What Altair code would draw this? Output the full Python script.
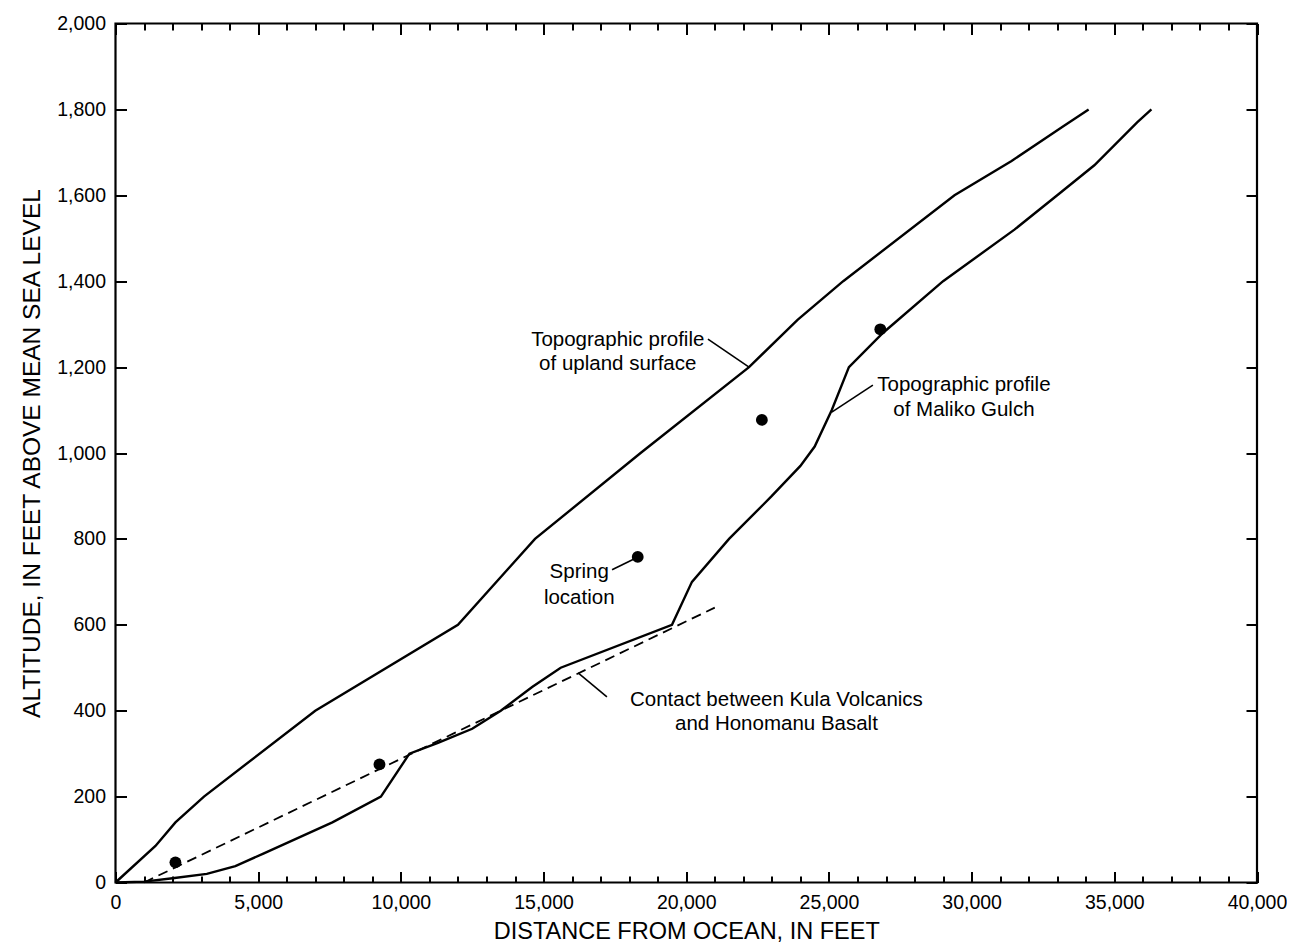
import altair as alt
import pandas as pd

FONT = "Liberation Sans"

# --- data ---
upland_x = [0, 1400, 2100, 3100, 7000, 12000, 14700, 18400, 22200, 23900, 25500, 29400, 31400, 33200, 34100]
upland_y = [0, 85, 140, 200, 400, 600, 800, 1000, 1200, 1310, 1400, 1600, 1680, 1760, 1800]

maliko_x = [0, 1000, 2000, 3200, 4200, 5200, 7600, 9300, 10300, 11300, 12500, 13500, 14600, 15600,
            19500, 20200, 21500, 23000, 24000, 24500, 25100, 25700, 26900, 29000, 31500, 33000,
            34300, 35800, 36300]
maliko_y = [0, 2, 10, 20, 38, 68, 140, 200, 300, 325, 358, 400, 455, 500,
            600, 700, 800, 900, 970, 1015, 1100, 1200, 1280, 1400, 1520, 1600,
            1670, 1770, 1800]

contact_x = [1000, 21000]
contact_y = [0, 640]

spring_x = [2100, 9250, 18300, 22650, 26800]
spring_y = [47, 275, 758, 1077, 1288]

label_text = ["Topographic profile", "of upland surface",
              "Topographic profile", "of Maliko Gulch",
              "Spring", "location",
              "Contact between Kula Volcanics", "and Honomanu Basalt"]
label_x = [17600, 17600, 29730, 29730, 16250, 16250, 23160, 23160]
label_y = [1263, 1207, 1158, 1100, 723, 662, 425, 369]

leader_x = [20760, 26540, 17400, 17220]
leader_y = [1265, 1158, 728, 432]
leader_x2 = [22200, 25100, 18170, 16210]
leader_y2 = [1200, 1095, 753, 488]

major_x = [0, 5000, 10000, 15000, 20000, 25000, 30000, 35000, 40000]
minor_x = [v for v in range(1000, 40000, 1000) if v % 5000 != 0]
major_y = [0, 200, 400, 600, 800, 1000, 1200, 1400, 1600, 1800, 2000]

up_df = pd.DataFrame({"x": upland_x, "y": upland_y, "o": range(len(upland_x))})
mal_df = pd.DataFrame({"x": maliko_x, "y": maliko_y, "o": range(len(maliko_x))})
con_df = pd.DataFrame({"x": contact_x, "y": contact_y, "o": range(len(contact_x))})
spr_df = pd.DataFrame({"x": spring_x, "y": spring_y})
lab_df = pd.DataFrame({"x": label_x, "y": label_y, "t": label_text})
lead_df = pd.DataFrame({"x": leader_x, "y": leader_y, "x2": leader_x2, "y2": leader_y2})

xs = alt.Scale(domain=[0, 40000], nice=False, zero=False)
ys = alt.Scale(domain=[0, 2000], nice=False, zero=False)

common = dict(domain=False, grid=False, tickColor="black", tickWidth=2,
              labelFont=FONT, labelFontSize=19.5, labelColor="black",
              titleFont=FONT, titleColor="black", titleFontWeight="normal")

ax_bottom_major = alt.Axis(orient="bottom", values=major_x, offset=-11, tickSize=11,
                           labelPadding=11, format=",d", labelFlush=False, labelOverlap=False,
                           title="DISTANCE FROM OCEAN, IN FEET", titleY=67, titleFontSize=23.5,
                           titleBaseline="alphabetic", **common)
ax_bottom_minor = alt.Axis(orient="bottom", values=minor_x, offset=-6.5, tickSize=6.5,
                           labels=False, title=None, **common)
ax_top_major = alt.Axis(orient="top", values=major_x, offset=-11, tickSize=11,
                        labels=False, title=None, **common)
ax_top_minor = alt.Axis(orient="top", values=minor_x, offset=-6.5, tickSize=6.5,
                        labels=False, title=None, **common)
ax_left = alt.Axis(orient="left", values=major_y, offset=-11, tickSize=11,
                   labelPadding=10, format=",d", labelFlush=False, labelOverlap=False,
                   title="ALTITUDE, IN FEET ABOVE MEAN SEA LEVEL", titleX=-87.5, titleFontSize=24.5,
                   titleBaseline="alphabetic", titleAngle=270, **common)
ax_right = alt.Axis(orient="right", values=major_y, offset=-11, tickSize=11,
                    labels=False, title=None, **common)

upper = alt.Chart(up_df).mark_line(color="black", strokeWidth=2.4).encode(
    x=alt.X("x:Q", scale=xs, axis=ax_bottom_major),
    y=alt.Y("y:Q", scale=ys, axis=ax_left),
    order="o:Q",
)
lower = alt.Chart(mal_df).mark_line(color="black", strokeWidth=2.4).encode(
    x=alt.X("x:Q", scale=xs, axis=ax_bottom_minor),
    y=alt.Y("y:Q", scale=ys, axis=ax_right),
    order="o:Q",
)
contact = alt.Chart(con_df).mark_line(color="black", strokeWidth=1.8, strokeDash=[10, 6]).encode(
    x=alt.X("x:Q", scale=xs, axis=ax_top_major),
    y=alt.Y("y:Q", scale=ys, axis=None),
    order="o:Q",
)
springs = alt.Chart(spr_df).mark_point(filled=True, color="black", size=140, opacity=1).encode(
    x=alt.X("x:Q", scale=xs, axis=ax_top_minor),
    y=alt.Y("y:Q", scale=ys, axis=None),
)
leaders = alt.Chart(lead_df).mark_rule(color="black", strokeWidth=1.6).encode(
    x=alt.X("x:Q", scale=xs, axis=None),
    y=alt.Y("y:Q", scale=ys, axis=None),
    x2="x2:Q",
    y2="y2:Q",
)
labels = alt.Chart(lab_df).mark_text(font=FONT, fontSize=20.5, color="black",
                                     align="center", baseline="middle").encode(
    x=alt.X("x:Q", scale=xs, axis=None),
    y=alt.Y("y:Q", scale=ys, axis=None),
    text="t:N",
)

chart = alt.layer(upper, lower, contact, springs, leaders, labels).resolve_axis(
    x="independent", y="independent"
).properties(
    width=1141.5,
    height=859,
    autosize=alt.AutoSizeParams(type="none"),
    padding={"left": 107.5, "top": 15.5, "right": 30, "bottom": 64},
    background="white",
).configure_view(stroke="black", strokeWidth=2.2)

chart.save("out.html", embed_options={"renderer": "svg", "actions": False})
